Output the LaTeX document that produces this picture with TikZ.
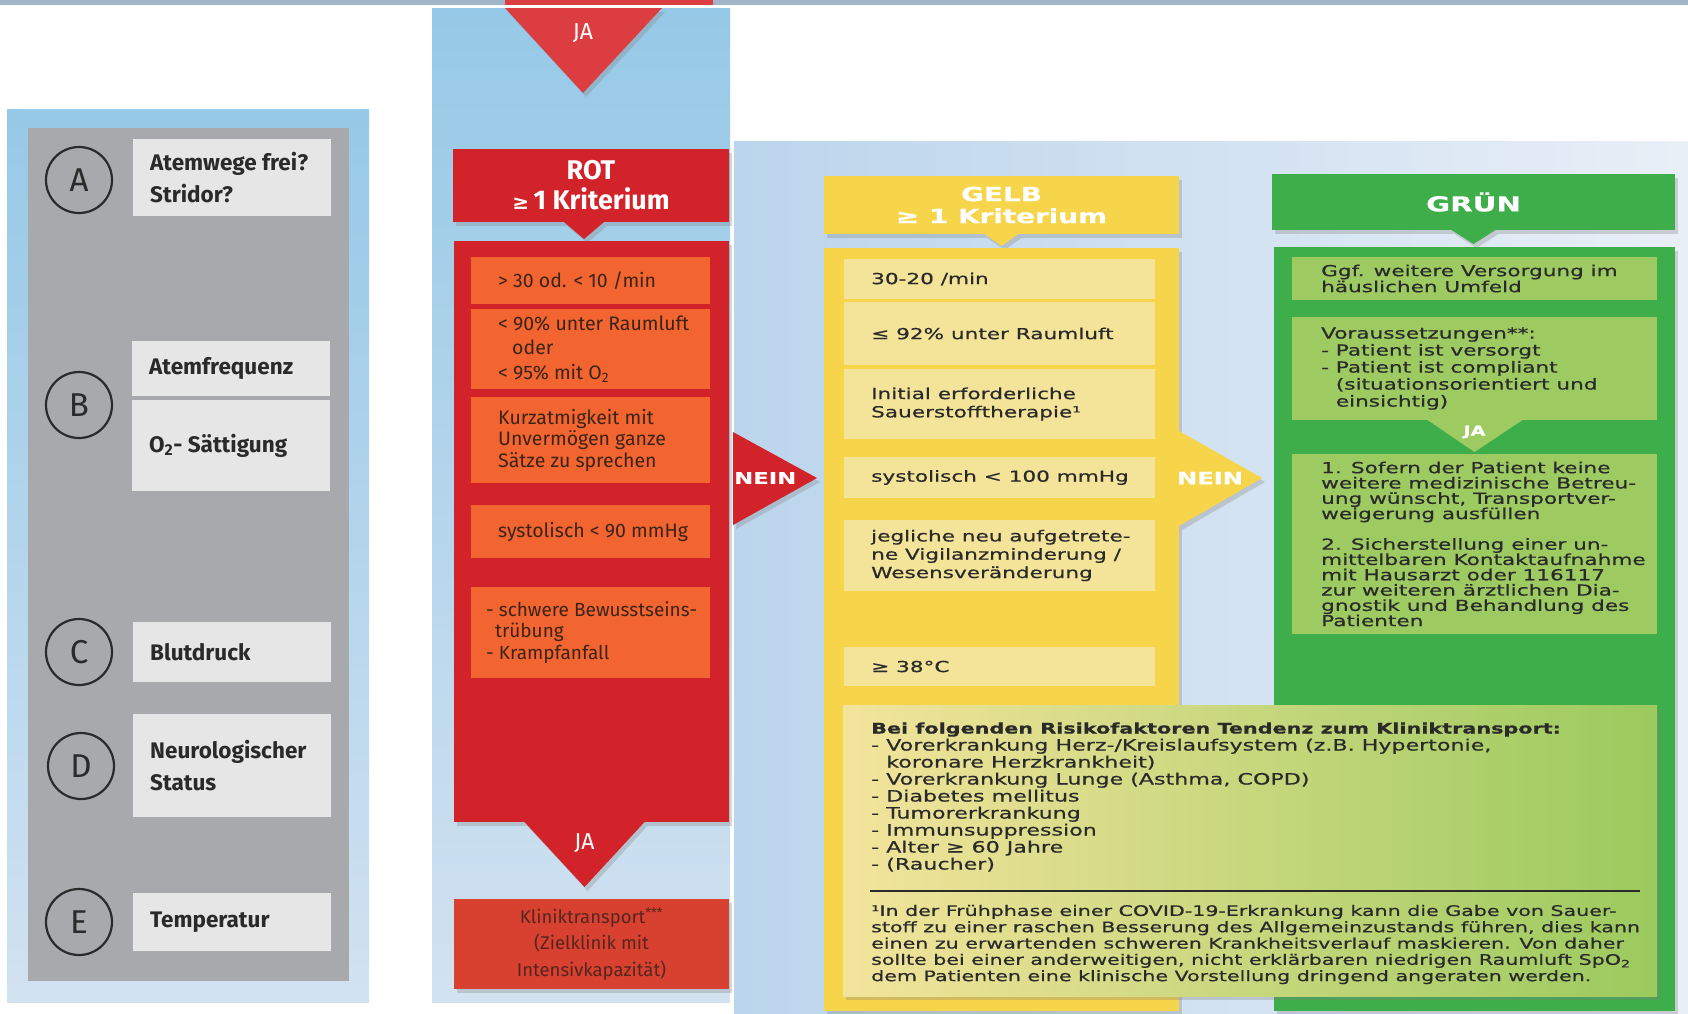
\documentclass[tikz,border=0pt]{standalone}
\usepackage{fontspec}
\setmainfont{Fira Sans}
\newfontfamily\widefont[FakeStretch=1.42, FakeBold=0.6]{DejaVu Sans}
\newfontfamily\symfont{DejaVu Sans}
\usetikzlibrary{shadows}

\definecolor{stripblue}{HTML}{A2B5CA}
\definecolor{skytop}{HTML}{96C9E7}
\definecolor{skybottom}{HTML}{D2E2F1}
\definecolor{skyleft}{HTML}{BBD5EC}
\definecolor{skyright}{HTML}{E9EFF7}
\definecolor{abcgray}{HTML}{A8A9AD}
\definecolor{abcwhite}{HTML}{E6E6E7}
\definecolor{inkgray}{HTML}{2A2A2A}
\definecolor{rotred}{HTML}{D2232A}
\definecolor{jared}{HTML}{DC3D40}
\definecolor{rotorange}{HTML}{F26430}
\definecolor{rotink}{HTML}{3B2417}
\definecolor{klinikred}{HTML}{D8402F}
\definecolor{klinikink}{HTML}{55261F}
\definecolor{gelb}{HTML}{F6D54B}
\definecolor{gelblight}{HTML}{F3E49A}
\definecolor{gruen}{HTML}{3DAE49}
\definecolor{gruenlight}{HTML}{9DCB62}
\definecolor{riskyellow}{HTML}{F3E49C}
\definecolor{riskgreen}{HTML}{9BCA5E}

\tikzset{
  shadowed/.style={drop shadow={shadow xshift=3pt, shadow yshift=-4pt, opacity=.3}},
  field/.style={anchor=north west, inner sep=0pt, outer sep=0pt},
  header/.style={field, shadowed, text=white, align=center},
  abcfield/.style={field, fill=abcwhite, minimum width=198pt},
  abclabel/.style={anchor=west, align=left, inner sep=0pt, text=inkgray,
    font=\bfseries\fontsize{22.5}{32}\selectfont},
  abcletter/.style={circle, draw=inkgray, line width=2.2pt, minimum size=66pt,
    inner sep=0pt, text=inkgray, font=\fontsize{33}{33}\selectfont},
  rotfield/.style={field, fill=rotorange, minimum width=239pt},
  rotlabel/.style={anchor=west, align=left, inner sep=0pt, text=rotink,
    font=\fontsize{19.5}{21.5}\selectfont},
  gelbfield/.style={field, fill=gelblight, minimum width=311pt},
  gelblabel/.style={anchor=west, align=left, inner sep=0pt, text=inkgray,
    font=\widefont\fontsize{15.2}{18.3}\selectfont},
  gruenfield/.style={field, fill=gruenlight, minimum width=365pt},
  gruenlabel/.style={anchor=west, align=left, inner sep=0pt, text=inkgray,
    font=\widefont\fontsize{15.2}{15.3}\selectfont},
  risklabel/.style={anchor=west, align=left, inner sep=0pt, text=inkgray,
    font=\widefont\fontsize{15.6}{17}\selectfont},
  arrowtext/.style={inner sep=0pt, text=white,
    font=\widefont\bfseries\fontsize{16}{16}\selectfont},
  jatext/.style={inner sep=0pt, text=white, font=\fontsize{23}{23}\selectfont}
}

\begin{document}
\begin{tikzpicture}[x=1pt, y=-1pt]
\useasboundingbox (0,0) rectangle (1688,1013);
\fill[white] (0,0) rectangle (1688,1013);
\fill[stripblue] (0,0) rectangle (1688,5);
\fill[jared] (505,0) rectangle (713,5);

% ABCDE
\shade[top color=skytop, bottom color=skybottom] (7,109) rectangle (369,1002);
\fill[abcgray] (28,128) rectangle (349,981);

\node[abcletter] (circA) at (79,180) {A};
\node[abcfield, minimum height=77pt] (boxA) at (133,139) {};
\node[abclabel] (txtA) at ([xshift=17pt]boxA.west) {Atemwege frei?\\Stridor?};

\node[abcletter] (circB) at (79,405) {B};
\node[abcfield, minimum height=55pt] (boxB1) at (132,341) {};
\node[abclabel] (txtB1) at ([xshift=17pt]boxB1.west) {Atemfrequenz};
\node[abcfield, minimum height=91pt] (boxB2) at (132,400) {};
\node[abclabel] (txtB2) at ([xshift=17pt]boxB2.west) {O\textsubscript{2}- Sättigung};

\node[abcletter] (circC) at (79,652) {C};
\node[abcfield, minimum height=60pt] (boxC) at (133,622) {};
\node[abclabel] (txtC) at ([xshift=17pt]boxC.west) {Blutdruck};

\node[abcletter] (circD) at (81,766) {D};
\node[abcfield, minimum height=103pt] (boxD) at (133,714) {};
\node[abclabel] (txtD) at ([xshift=17pt]boxD.west) {Neurologischer\\Status};

\node[abcletter] (circE) at (79,922) {E};
\node[abcfield, minimum height=58pt] (boxE) at (133,893) {};
\node[abclabel] (txtE) at ([xshift=17pt]boxE.west) {Temperatur};

% ROT
\shade[top color=skytop, bottom color=skybottom] (432,8) rectangle (730,1002);
\fill[jared, shadowed] (505,8) -- (662,8) -- (583,93) -- cycle;
\node[jatext] (jaTop) at (583,33) {JA};

\node[header, fill=rotred, minimum width=276pt, minimum height=73pt,
  font=\bfseries\fontsize{27}{30}\selectfont] (rot) at (453,149)
  {ROT\\{\symfont\fontsize{20}{20}\selectfont ≥}\,1 Kriterium};
\fill[rotred, shadowed] ([xshift=-27pt]rot.south) -- ([xshift=13pt]rot.south)
  -- ([xshift=-7pt, yshift=-17pt]rot.south) -- cycle;
\node[field, fill=rotred, shadowed, minimum width=275pt, minimum height=581pt] (rotbody) at (454,241) {};

\node[rotfield, minimum height=47pt] (r1) at (471,257) {};
\node[rotlabel] (r1text) at ([xshift=27pt]r1.west) {> 30 od. < 10 /min};
\node[rotfield, minimum height=80pt] (r2) at (471,309) {};
\node[rotlabel, font=\fontsize{19.5}{24.5}\selectfont] (r2text) at ([xshift=27pt]r2.west)
  {< 90\% unter Raumluft\\\hspace*{14pt}oder\\< 95\% mit O\textsubscript{2}};
\node[rotfield, minimum height=86pt] (r3) at (471,397) {};
\node[rotlabel] (r3text) at ([xshift=27pt]r3.west) {Kurzatmigkeit mit\\Unvermögen ganze\\Sätze zu sprechen};
\node[rotfield, minimum height=53pt] (r4) at (471,505) {};
\node[rotlabel] (r4text) at ([xshift=27pt]r4.west) {systolisch < 90 mmHg};
\node[rotfield, minimum height=91pt] (r5) at (471,587) {};
\node[rotlabel, font=\fontsize{19}{21.5}\selectfont] (r5text) at ([xshift=15pt]r5.west)
  {- schwere Bewusstseins-\\\hspace*{9pt}trübung\\- Krampfanfall};

\fill[rotred, shadowed] ([xshift=-67pt]rotbody.south) -- ([xshift=53pt]rotbody.south)
  -- ([xshift=-7pt, yshift=-65pt]rotbody.south) -- cycle;
\node[jatext] (jaRot) at ([xshift=-7pt, yshift=-21pt]rotbody.south) {JA};
\node[field, fill=klinikred, shadowed, minimum width=275pt, minimum height=90pt,
  align=center, text=klinikink, font=\fontsize{18.5}{26.5}\selectfont] (klinik) at (454,899)
  {Kliniktransport\textsuperscript{***}\\(Zielklinik mit\\Intensivkapazität)};

% GELB und GRUEN
\shade[left color=skyleft, right color=skyright] (734,141) rectangle (1688,1013);

\coordinate (neinRot) at (817,478);
\fill[rotred, shadowed] (733,432) -- (neinRot) -- (733,525) -- cycle;
\node[arrowtext, anchor=west] (neinRotText) at (734,478) {NEIN};

\node[header, fill=gelb, minimum width=355pt, minimum height=58pt,
  font=\widefont\bfseries\fontsize{19.6}{22}\selectfont] (gelbhead) at (824,176)
  {GELB\\≥ 1 Kriterium};
\fill[gelb, shadowed] ([xshift=-17pt]gelbhead.south) -- ([xshift=17pt]gelbhead.south)
  -- ([yshift=-12pt]gelbhead.south) -- cycle;
\node[field, fill=gelb, shadowed, minimum width=355pt, minimum height=763pt] (gelbbody) at (824,248) {};

\coordinate (neinGelb) at (1262,478);
\fill[gelb, shadowed] (1179,431) -- (neinGelb) -- (1179,526) -- cycle;
\node[arrowtext, font=\widefont\bfseries\fontsize{17}{17}\selectfont] (neinGelbText) at (1210,478) {NEIN};

\node[gelbfield, minimum height=40pt] (y1) at (844,259) {};
\node[gelblabel] (y1text) at ([xshift=27pt]y1.west) {30-20 /min};
\node[gelbfield, minimum height=63pt] (y2) at (844,302) {};
\node[gelblabel] (y2text) at ([xshift=27pt]y2.west) {≤ 92\% unter Raumluft};
\node[gelbfield, minimum height=70pt] (y3) at (844,369) {};
\node[gelblabel] (y3text) at ([xshift=27pt]y3.west) {Initial erforderliche\\Sauerstofftherapie¹};
\node[gelbfield, minimum height=41pt] (y4) at (844,457) {};
\node[gelblabel] (y4text) at ([xshift=27pt]y4.west) {systolisch < 100 mmHg};
\node[gelbfield, minimum height=71pt] (y5) at (844,520) {};
\node[gelblabel] (y5text) at ([xshift=27pt]y5.west) {jegliche neu aufgetrete-\\ne Vigilanzminderung /\\Wesensveränderung};
\node[gelbfield, minimum height=39pt] (y6) at (844,647) {};
\node[gelblabel] (y6text) at ([xshift=27pt]y6.west) {≥ 38°C};

\node[header, fill=gruen, minimum width=403pt, minimum height=56pt,
  font=\widefont\bfseries\fontsize{20.6}{22}\selectfont] (gruenhead) at (1272,174) {GRÜN};
\fill[gruen, shadowed] ([xshift=-22pt]gruenhead.south) -- ([xshift=22pt]gruenhead.south)
  -- ([yshift=-14pt]gruenhead.south) -- cycle;
\node[field, fill=gruen, shadowed, minimum width=401pt, minimum height=764pt] (gruenbody) at (1274,247) {};

\node[gruenfield, minimum height=43pt] (g1) at (1292,257) {};
\node[gruenlabel, font=\widefont\fontsize{15.2}{16}\selectfont] (g1text) at ([xshift=29pt]g1.west)
  {Ggf. weitere Versorgung im\\häuslichen Umfeld};
\node[gruenfield, minimum height=103pt] (g2) at (1292,317) {};
\node[gruenlabel, font=\widefont\fontsize{15.2}{17}\selectfont] (g2text) at ([xshift=29pt]g2.west)
  {Voraussetzungen**:\\- Patient ist versorgt\\- Patient ist compliant\\\phantom{- }(situationsorientiert und\\\phantom{- }einsichtig)};
\fill[gruenlight] ([xshift=-47pt]g2.south) -- ([xshift=48pt]g2.south) -- ([yshift=-32pt]g2.south) -- cycle;
\node[arrowtext, font=\widefont\bfseries\fontsize{13.5}{13.5}\selectfont] (jaGruen) at ([yshift=-12pt]g2.south) {JA};
\node[gruenfield, minimum height=180pt] (g3) at (1292,454) {};
\node[gruenlabel] (g3text) at ([xshift=29pt]g3.west)
  {1. Sofern der Patient keine\\weitere medizinische Betreu-\\ung wünscht, Transportver-\\weigerung ausfüllen\\[15.3pt]2. Sicherstellung einer un-\\mittelbaren Kontaktaufnahme\\mit Hausarzt oder 116117\\zur weiteren ärztlichen Dia-\\gnostik und Behandlung des\\Patienten};

% Risikofaktoren
\node[field, shadowed, left color=riskyellow, right color=riskgreen,
  minimum width=814pt, minimum height=291pt] (risk) at (843,705) {};
\node[risklabel] (risklist) at (871,797)
  {{\bfseries\fontsize{14.6}{17}\selectfont Bei folgenden Risikofaktoren Tendenz zum Kliniktransport:}\\
   - Vorerkrankung Herz-/Kreislaufsystem (z.B. Hypertonie,\\
   \phantom{- }koronare Herzkrankheit)\\
   - Vorerkrankung Lunge (Asthma, COPD)\\
   - Diabetes mellitus\\
   - Tumorerkrankung\\
   - Immunsuppression\\
   - Alter ≥ 60 Jahre\\
   - (Raucher)};
\draw[inkgray, line width=1.6pt] (870,891) -- (1640,891);
\node[risklabel, font=\widefont\fontsize{14.5}{16.3}\selectfont] (risknote) at (871,944.5)
  {¹In der Frühphase einer COVID-19-Erkrankung kann die Gabe von Sauer-\\
   stoff zu einer raschen Besserung des Allgemeinzustands führen, dies kann\\
   einen zu erwartenden schweren Krankheitsverlauf maskieren. Von daher\\
   sollte bei einer anderweitigen, nicht erklärbaren niedrigen Raumluft SpO\textsubscript{2}\\
   dem Patienten eine klinische Vorstellung dringend angeraten werden.};
\end{tikzpicture}
\end{document}
